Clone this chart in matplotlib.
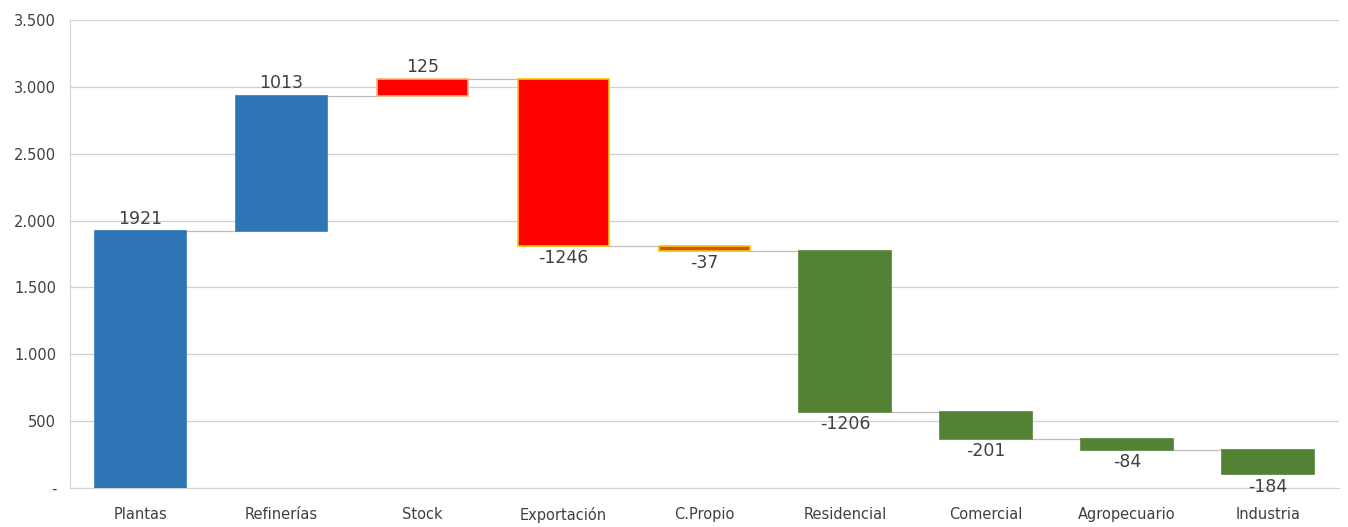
import numpy as np
import matplotlib.pyplot as plt

# Waterfall data
categories = ['Plantas', 'Refinerías', 'Stock', 'Exportación', 'C.Propio',
              'Residencial', 'Comercial', 'Agropecuario', 'Industria']
values = [1921, 1013, 125, -1246, -37, -1206, -201, -84, -184]
fill_colors = ['#2E75B6', '#2E75B6', '#FF0000', '#FF0000', '#C55A11',
               '#548235', '#548235', '#548235', '#548235']
edge_colors = ['#2E75B6', '#2E75B6', '#F4B183', '#FFC000', '#FFC000',
               '#548235', '#548235', '#548235', '#548235']
ytick_vals = [0, 500, 1000, 1500, 2000, 2500, 3000, 3500]
ytick_labels = ['-', '500', '1.000', '1.500', '2.000', '2.500', '3.000', '3.500']

vals = np.array(values)
ends = np.cumsum(vals)
starts = ends - vals
x = np.arange(len(categories))
width = 0.65

fig = plt.figure(figsize=(13.48, 5.27), dpi=100)
ax = fig.add_axes([0.052, 0.074, 0.941, 0.888])

ax.bar(x, vals, bottom=starts, width=width, color=fill_colors,
       edgecolor=edge_colors, linewidth=1.2, zorder=3)

# connectors between bars
for i in range(len(x) - 1):
    ax.plot([x[i] + width / 2, x[i + 1] - width / 2], [ends[i], ends[i]],
            color='#BFBFBF', lw=0.9, zorder=2)

# value labels
for i, v in enumerate(vals):
    if v >= 0:
        ax.text(x[i], ends[i] + 25, str(v), ha='center', va='bottom',
                fontsize=12.5, color='#404040', zorder=4)
    else:
        ax.text(x[i], ends[i] - 25, str(v), ha='center', va='top',
                fontsize=12.5, color='#404040', zorder=4)

ax.set_xlim(-0.5, 8.5)
ax.set_ylim(0, 3500)
ax.set_xticks(x)
ax.set_xticklabels(categories, fontsize=10.5, color='#404040')
ax.set_yticks(ytick_vals)
ax.set_yticklabels(ytick_labels, fontsize=10.5, color='#404040')
ax.tick_params(length=0, pad=10)
ax.tick_params(axis='x', pad=14)
ax.yaxis.grid(True, color='#D0D0D0', lw=0.9, zorder=0)
ax.set_axisbelow(True)
for s in ['top', 'right']:
    ax.spines[s].set_visible(False)
ax.spines['left'].set_color('#D0D0D0')
ax.spines['bottom'].set_color('#D0D0D0')

fig.savefig('out.png', dpi=100)
